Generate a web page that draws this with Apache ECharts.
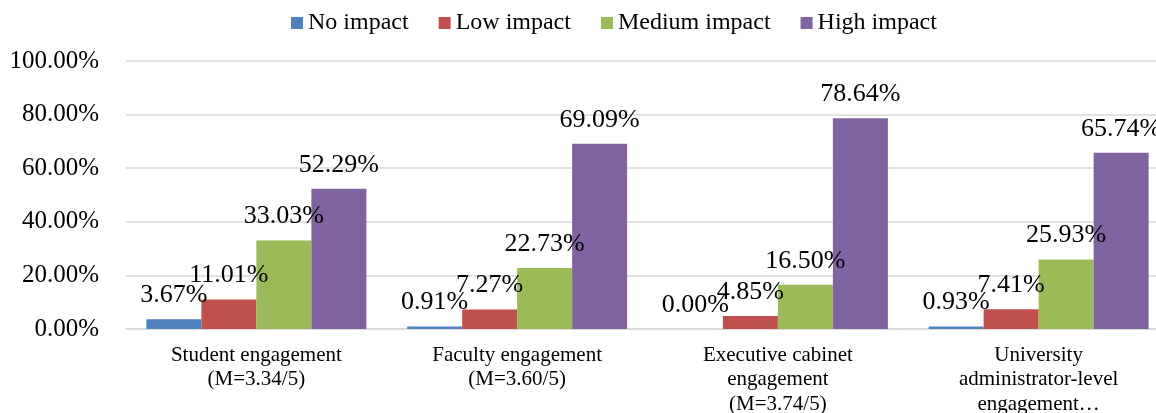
<!DOCTYPE html>
<html>
<head>
<meta charset="utf-8">
<script src="https://cdn.jsdelivr.net/npm/echarts@6/dist/echarts.min.js"></script>
<style>
html,body{margin:0;padding:0;background:#fff;}
#chart{width:1156px;height:413px;}
</style>
</head>
<body>
<div id="chart"></div>
<script>
const categories = [
  "Student engagement\n(M=3.34/5)",
  "Faculty engagement\n(M=3.60/5)",
  "Executive cabinet\nengagement\n(M=3.74/5)",
  "University\nadministrator-level\nengagement\u2026"
];
const seriesNames = ["No impact", "Low impact", "Medium impact", "High impact"];
const noImpact = [3.67, 0.91, 0.00, 0.93];
const lowImpact = [11.01, 7.27, 4.85, 7.41];
const mediumImpact = [33.03, 22.73, 16.50, 25.93];
const highImpact = [52.29, 69.09, 78.64, 65.74];
const colors = ["#4F81BD", "#C0504D", "#9BBB59", "#8064A2"];
const yTicks = [0, 20, 40, 60, 80, 100];

const FONT = '"Liberation Serif", "Times New Roman", serif';
const seriesData = [noImpact, lowImpact, mediumImpact, highImpact];

const chart = echarts.init(document.getElementById('chart'), null, {renderer: 'canvas'});
chart.setOption({
  animation: false,
  backgroundColor: '#ffffff',
  textStyle: {fontFamily: FONT, color: '#000'},
  legend: {
    data: seriesNames,
    left: 286,
    top: 6,
    itemWidth: 12,
    itemHeight: 12,
    itemGap: 30,
    icon: 'rect',
    textStyle: {fontFamily: FONT, fontSize: 24, color: '#000'}
  },
  grid: {left: 126, top: 61, bottom: 84, width: 1043, containLabel: false, outerBoundsMode: 'none'},
  xAxis: {
    type: 'category',
    data: categories,
    axisLine: {show: true, lineStyle: {color: '#d9d9d9', width: 1.5}},
    axisTick: {show: false},
    axisLabel: {
      interval: 0,
      fontFamily: FONT,
      fontSize: 21,
      lineHeight: 24.5,
      color: '#000',
      margin: 14
    }
  },
  yAxis: {
    type: 'value',
    min: yTicks[0],
    max: yTicks[yTicks.length - 1],
    interval: 20,
    axisLine: {show: false},
    axisTick: {show: false},
    splitLine: {show: true, lineStyle: {color: '#d9d9d9', width: 1.5}},
    axisLabel: {
      fontFamily: FONT,
      fontSize: 25,
      color: '#000',
      margin: 27,
      formatter: v => v.toFixed(2) + '%'
    }
  },
  series: seriesNames.map((name, i) => ({
    name: name,
    type: 'bar',
    data: seriesData[i],
    barWidth: 55,
    barGap: '0%',
    itemStyle: {color: colors[i]},
    label: {
      show: true,
      position: 'top',
      distance: 11,
      fontFamily: FONT,
      fontSize: 26,
      color: '#000',
      formatter: p => p.value.toFixed(2) + '%'
    }
  }))
});
</script>
</body>
</html>
